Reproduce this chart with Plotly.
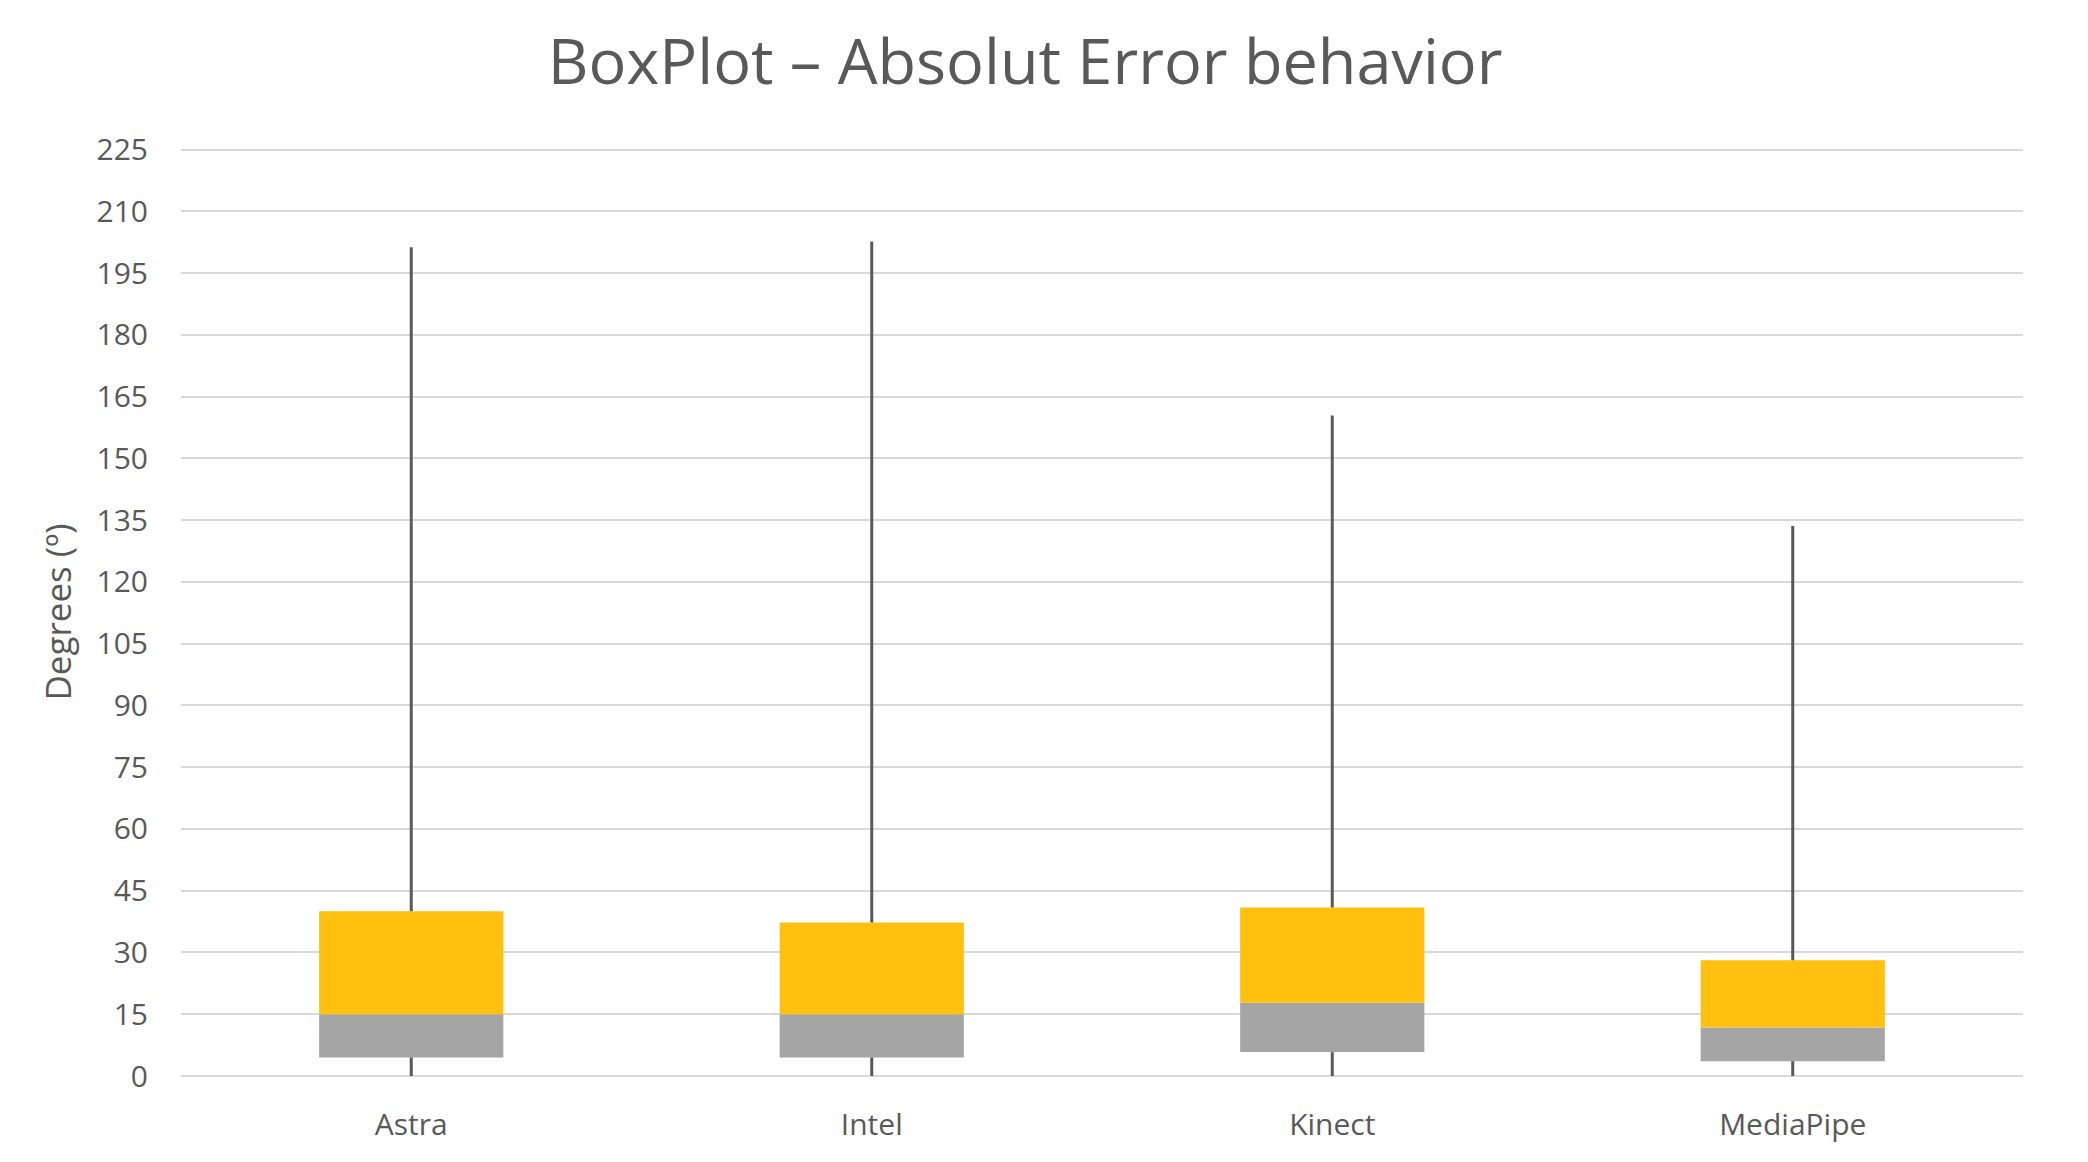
"""Box plot of absolute error, drawn Excel-style from floating bars"""

import plotly.graph_objs as go

devices = ['Astra', 'Intel', 'Kinect', 'MediaPipe']
minimum = [0, 0, 0, 0]
q1 = [4.5, 4.5, 5.8, 3.6]
median = [15.0, 15.0, 17.8, 11.8]
q3 = [40.0, 37.3, 40.9, 28.1]
maximum = [201.3, 202.7, 160.4, 133.6]
y_ticks = list(range(0, 226, 15))

GREY = '#A5A5A5'
GOLD = '#FFC010'
WHISKER = '#595959'
TEXT = '#595959'
FONT = 'Open Sans'

# whisker segments: min -> Q1 and Q3 -> max, kept outside the box
wx, wy = [], []
for d, lo, a, b, hi in zip(devices, minimum, q1, q3, maximum):
    wx += [d, d, None, d, d, None]
    wy += [lo, a, None, b, hi, None]

fig = go.Figure([
    go.Bar(x=devices, y=[m - a for m, a in zip(median, q1)], base=q1,
           marker=dict(color=GREY, line=dict(width=0)), showlegend=False),
    go.Bar(x=devices, y=[b - m for b, m in zip(q3, median)], base=median,
           marker=dict(color=GOLD, line=dict(width=0)), showlegend=False),
    go.Scatter(x=wx, y=wy, mode='lines', line=dict(color=WHISKER, width=3),
               hoverinfo='skip', showlegend=False),
])

# the page body adds an 8px offset, so the figure is 8px smaller each way
fig.update_layout(
    width=2080, height=1154,
    barmode='overlay', bargap=0.6,
    paper_bgcolor='white', plot_bgcolor='white',
    margin=dict(l=173, r=65, t=140, b=86),
    font=dict(family=FONT, color=TEXT),
    title=dict(text='BoxPlot – Absolut Error behavior', x=0.489, xanchor='center',
               y=0.9532, yanchor='middle', font=dict(size=63, color=TEXT, family=FONT)),
    xaxis=dict(showgrid=False, showline=False, zeroline=False,
               tickfont=dict(size=30, color=TEXT), ticklabelstandoff=28),
    yaxis=dict(range=[0, 225.4], tickvals=y_ticks, showgrid=True, gridcolor='#D9D9D9',
               gridwidth=2, zeroline=True, zerolinecolor='#D9D9D9', zerolinewidth=2,
               showline=False, tickfont=dict(size=30, color=TEXT), ticklabelstandoff=32,
               title=dict(text='Degrees (º)', font=dict(size=35, color=TEXT), standoff=14)),
)

fig.write_html("out.html")
